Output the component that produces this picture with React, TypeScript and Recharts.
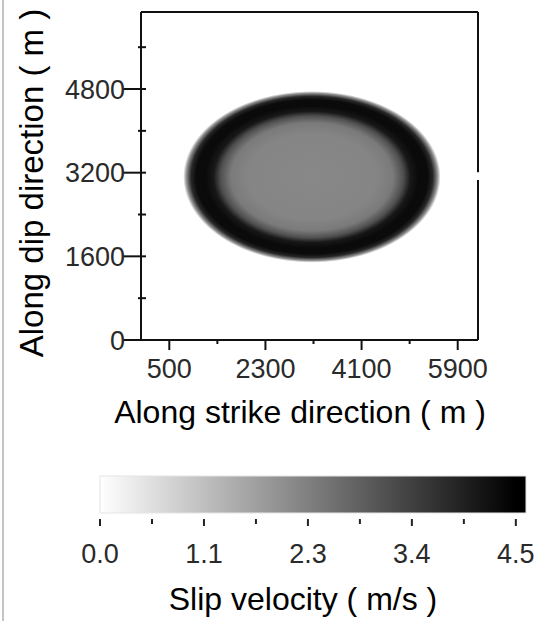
import { ComposedChart, XAxis, YAxis, ReferenceArea, ReferenceLine } from 'recharts';

// axes (metres)
const strikeTicks = [500, 1400, 2300, 3200, 4100, 5000, 5900];
const strikeLabels = ['500', '', '2300', '', '4100', '', '5900'];
const dipTicks = [0, 800, 1600, 2400, 3200, 4000, 4800, 5600];
const dipLabels = ['0', '', '1600', '', '3200', '', '4800', ''];
const strikeDomain = [-30, 6280];
const dipDomain = [0, 6273];

// rupture patch
const patchCenter = [3170, 3120]; // strike, dip
const patchSemiAxes = [2410, 1640];

// slip velocity across the patch, 0 = centre, 1 = outer edge
const profileRadius = [0, 0.5, 0.63, 0.71, 0.765, 0.83, 0.9, 0.94, 0.975, 1.0];
const profileVelocity = [2.1, 2.15, 2.35, 3.1, 4.08, 4.32, 4.3, 3.8, 2.0, 0];

// colour bar
const velocityTicks = [0, 0.5625, 1.125, 1.6875, 2.25, 2.8125, 3.375, 3.9375, 4.5];
const velocityLabels = ['0.0', '', '1.1', '', '2.3', '', '3.4', '', '4.5'];
const velocityMax = 4.5;
const colorbarEnd = 4.61;
const colorbarStops = [0, 1.125, 2.25, 3.375, 4.5, 4.61];

const FONT = '"Liberation Sans", Arial, Helvetica, sans-serif';

const grayFor = (v: number) => {
  const g = Math.round(255 * (1 - Math.min(v, velocityMax) / velocityMax));
  return `rgb(${g},${g},${g})`;
};

function StrikeTick({ x, y, payload }: any) {
  const i = strikeTicks.indexOf(payload.value);
  const major = strikeLabels[i] !== '';
  return (
    <g>
      <line x1={x} x2={x} y1={y} y2={y + (major ? 10 : 4)} stroke="#111" strokeWidth={2} />
      {major && (
        <text x={x} y={y + 38} textAnchor="middle" fontSize={27} fill="#2a2a2a" fontFamily={FONT}>
          {strikeLabels[i]}
        </text>
      )}
    </g>
  );
}

function DipTick({ x, y, payload }: any) {
  const i = dipTicks.indexOf(payload.value);
  const major = dipLabels[i] !== '';
  return (
    <g>
      <line x1={x - (major ? 18 : 3)} x2={x + 5} y1={y} y2={y} stroke="#111" strokeWidth={2} />
      {major && (
        <text x={x - 16} y={y + 9.5} textAnchor="end" fontSize={27} fill="#2a2a2a" fontFamily={FONT}>
          {dipLabels[i]}
        </text>
      )}
    </g>
  );
}

function VelocityTick({ x, y, payload }: any) {
  const i = velocityTicks.indexOf(payload.value);
  const major = velocityLabels[i] !== '';
  return (
    <g>
      <line x1={x} x2={x} y1={y + 6} y2={y + (major ? 13 : 11)} stroke="#222" strokeWidth={2} />
      {major && (
        <text x={x} y={y + 50} textAnchor="middle" fontSize={27} fill="#2a2a2a" fontFamily={FONT}>
          {velocityLabels[i]}
        </text>
      )}
    </g>
  );
}

function PatchShape({ x, y, width, height }: any) {
  return (
    <g>
      <defs>
        <radialGradient id="slipPatch" cx="50%" cy="50%" r="50%">
          {profileRadius.map((r, i) => (
            <stop key={i} offset={r} stopColor={grayFor(profileVelocity[i])} />
          ))}
        </radialGradient>
      </defs>
      <ellipse cx={x + width / 2} cy={y + height / 2} rx={width / 2} ry={height / 2} fill="url(#slipPatch)" />
    </g>
  );
}

function ColorbarShape({ x, y, width, height }: any) {
  return (
    <g>
      <defs>
        <linearGradient id="slipBar" x1="0" x2="1" y1="0" y2="0">
          {colorbarStops.map((v, i) => (
            <stop key={i} offset={v / colorbarEnd} stopColor={grayFor(v)} />
          ))}
        </linearGradient>
      </defs>
      <rect x={x} y={y} width={width} height={height} fill="url(#slipBar)" stroke="#e4e4e4" strokeWidth={1} />
    </g>
  );
}

export default function App() {
  return (
    <div style={{ position: 'absolute', left: 0, top: 0, width: 540, height: 621, background: '#fff' }}>
      <div style={{ position: 'absolute', left: 2, top: 0, width: 2, height: 621, background: '#c4c4c4' }} />
      <div style={{ position: 'absolute', left: 0, top: 0 }}>
        <ComposedChart width={540} height={440} margin={{ top: 12, right: 62, bottom: 60, left: 81 }}>
          <XAxis
            type="number"
            dataKey="x"
            domain={strikeDomain}
            ticks={strikeTicks}
            interval={0}
            height={40}
            tickSize={0}
            tickMargin={0}
            tickLine={false}
            axisLine={{ stroke: '#111', strokeWidth: 2 }}
            tick={<StrikeTick />}
            allowDataOverflow
          />
          <YAxis
            type="number"
            dataKey="y"
            domain={dipDomain}
            ticks={dipTicks}
            interval={0}
            width={60}
            tickSize={0}
            tickMargin={0}
            tickLine={false}
            axisLine={{ stroke: '#111', strokeWidth: 2 }}
            tick={<DipTick />}
            allowDataOverflow
          />
          <ReferenceArea
            x1={patchCenter[0] - patchSemiAxes[0]}
            x2={patchCenter[0] + patchSemiAxes[0]}
            y1={patchCenter[1] - patchSemiAxes[1]}
            y2={patchCenter[1] + patchSemiAxes[1]}
            shape={PatchShape}
          />
          <ReferenceLine y={dipDomain[1]} stroke="#111" strokeWidth={2} />
          <ReferenceLine
            segment={[{ x: strikeDomain[1], y: dipDomain[1] }, { x: strikeDomain[1], y: 3210 }]}
            stroke="#111"
            strokeWidth={2}
          />
          <ReferenceLine
            segment={[{ x: strikeDomain[1], y: 3060 }, { x: strikeDomain[1], y: dipDomain[0] }]}
            stroke="#111"
            strokeWidth={2}
          />
        </ComposedChart>
        <svg width={540} height={440} style={{ position: 'absolute', left: 0, top: 0, pointerEvents: 'none' }}>
          <text x={300} y={423} textAnchor="middle" fontSize={32} fill="#000" fontFamily={FONT}>
            Along strike direction ( m )
          </text>
          <text
            x={43}
            y={183}
            textAnchor="middle"
            fontSize={33}
            fill="#000"
            fontFamily={FONT}
            transform="rotate(-90 43 183)"
          >
            Along dip direction ( m )
          </text>
        </svg>
      </div>
      <div style={{ position: 'absolute', left: 0, top: 460 }}>
        <ComposedChart width={540} height={161} margin={{ top: 16, right: 14, bottom: 68, left: 100 }}>
          <XAxis
            type="number"
            dataKey="v"
            domain={[0, colorbarEnd]}
            ticks={velocityTicks}
            interval={0}
            height={40}
            tickSize={0}
            tickMargin={0}
            tickLine={false}
            axisLine={false}
            tick={<VelocityTick />}
            allowDataOverflow
          />
          <YAxis
            type="number"
            dataKey="w"
            domain={[0, 1]}
            width={0}
            tick={false}
            tickLine={false}
            axisLine={false}
            allowDataOverflow
          />
          <ReferenceArea x1={0} x2={colorbarEnd} y1={0} y2={1} shape={ColorbarShape} />
        </ComposedChart>
        <svg width={540} height={161} style={{ position: 'absolute', left: 0, top: 0, pointerEvents: 'none' }}>
          <text x={303} y={150} textAnchor="middle" fontSize={32} fill="#000" fontFamily={FONT}>
            Slip velocity ( m/s )
          </text>
        </svg>
      </div>
    </div>
  );
}
